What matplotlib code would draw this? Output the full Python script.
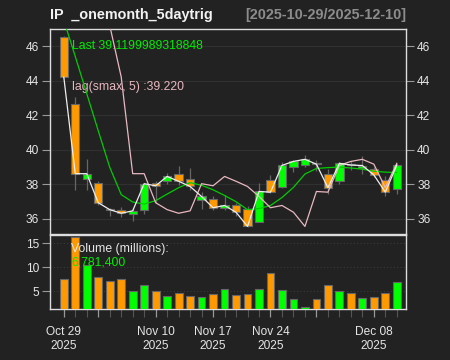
import numpy as np
import matplotlib
matplotlib.use("Agg")
import matplotlib.pyplot as plt
from matplotlib.ticker import FixedLocator, NullFormatter

plt.rcParams["font.family"] = ["Liberation Sans", "DejaVu Sans"]

# ---- data ----
dates = ["2025-10-29", "2025-10-30", "2025-10-31", "2025-11-03", "2025-11-04",
         "2025-11-05", "2025-11-06", "2025-11-07", "2025-11-10", "2025-11-11",
         "2025-11-12", "2025-11-13", "2025-11-14", "2025-11-17", "2025-11-18",
         "2025-11-19", "2025-11-20", "2025-11-21", "2025-11-24", "2025-11-25",
         "2025-11-26", "2025-11-28", "2025-12-01", "2025-12-02", "2025-12-03",
         "2025-12-04", "2025-12-05", "2025-12-08", "2025-12-09", "2025-12-10"]

opens = [46.54, 42.64, 38.33, 38.10, 36.58, 36.53, 36.30, 36.49, 38.10, 38.17,
         38.62, 38.33, 37.07, 37.13, 36.65, 36.78, 36.59, 35.82, 38.23, 37.84,
         39.00, 39.10, 39.25, 38.62, 38.20, 39.20, 38.94, 38.88, 38.23, 37.75]
highs = [46.60, 43.03, 39.49, 38.20, 36.65, 36.72, 36.65, 38.10, 38.20, 38.65,
         39.08, 38.95, 37.55, 37.30, 37.40, 36.95, 36.75, 38.08, 38.52, 39.30,
         39.42, 39.68, 39.40, 38.90, 39.30, 39.38, 39.62, 39.00, 38.50, 39.20]
lows = [44.15, 37.70, 37.65, 36.78, 36.20, 36.10, 35.90, 36.30, 36.90, 38.00,
        37.95, 37.65, 36.60, 36.50, 36.50, 36.20, 35.55, 35.80, 37.50, 37.80,
        38.70, 39.00, 38.80, 37.46, 38.05, 38.85, 38.62, 38.40, 37.30, 37.46]
closes = [44.22, 38.62, 38.62, 36.94, 36.54, 36.33, 36.47, 38.04, 37.92, 38.46,
          38.18, 37.88, 37.30, 36.65, 36.78, 36.39, 35.57, 37.59, 37.55, 39.10,
          39.33, 39.45, 39.17, 37.81, 39.22, 39.12, 39.09, 38.55, 37.55, 39.12]

# volume in millions
volume = [7.44, 16.19, 10.35, 7.98, 7.08, 7.44, 5.06, 6.31, 5.06, 4.03,
          4.51, 4.03, 3.75, 4.31, 5.35, 4.10, 4.38, 5.49, 8.69, 5.14,
          3.33, 1.73, 3.26, 6.19, 5.00, 4.51, 3.48, 3.75, 4.65, 6.78]

# green moving-average line
sma_line = [47.50, 45.40, 43.25, 41.10, 38.99, 37.41, 36.98, 36.86, 37.06, 37.44,
            37.81, 38.10, 37.95, 37.69, 37.36, 37.00, 36.54, 36.60, 36.78, 37.24,
            37.83, 38.60, 38.92, 38.97, 39.00, 38.95, 38.88, 38.76, 38.71, 38.69]

# pink lag(smax, 5) line
lag_line = [48.00, 47.80, 47.60, 47.40, 47.20, 44.22, 38.62, 38.62, 36.94, 36.54,
            36.33, 36.47, 38.04, 37.92, 38.46, 38.18, 37.88, 37.30, 36.65, 36.78,
            36.39, 35.57, 37.59, 37.55, 39.10, 39.33, 39.45, 39.17, 37.81, 39.22]

major_idx = [0, 3, 8, 13, 18, 22, 27]
major_lbl = ["Oct 29\n2025", "", "Nov 10\n2025", "Nov 17\n2025",
             "Nov 24\n2025", "", "Dec 08\n2025"]

price_ticks = [36, 38, 40, 42, 44, 46]
vol_ticks = [5, 10, 15]

# ---- style ----
BG = "#222222"
UP = "#00FF00"
DN = "#FF9900"
EDGE = "#666666"
FRAME = "#DDDDDD"
TXT = "#E6E6E6"
GRID = "#303030"

x = np.arange(len(closes))
o = np.array(opens)
c = np.array(closes)
up = c >= o
cols = np.where(up, UP, DN)

fig = plt.figure(figsize=(4.5, 3.6), dpi=100, facecolor=BG)
ax = fig.add_axes([50 / 450, 1 - 234 / 360, 356 / 450, 205 / 360], facecolor=BG)
axv = fig.add_axes([50 / 450, 1 - 309 / 360, 356 / 450, 74 / 360], facecolor=BG)

for a in (ax, axv):
    for s in a.spines.values():
        s.set_color(FRAME)
        s.set_linewidth(1.0)
    a.set_xlim(-1.2, len(closes) - 0.2)

# grid
for t in price_ticks:
    ax.axhline(t, color=GRID, lw=0.9, zorder=0)
for t in vol_ticks:
    axv.axhline(t, color="#3a3a3a", lw=0.8, ls=(0, (1, 2)), zorder=0)

# candles
ax.vlines(x, lows, highs, color=EDGE, lw=0.9, zorder=2)
body_h = np.maximum(np.abs(c - o), 0.04)
ax.bar(x, body_h, bottom=np.minimum(o, c), width=0.72, color=cols,
       edgecolor=EDGE, linewidth=0.8, zorder=3)

# overlays
ax.plot(x, sma_line, color="#00CC00", lw=0.9, zorder=4)
ax.plot(x, lag_line, color="#E8B8C0", lw=0.9, zorder=4)
ax.plot(x, closes, color="#EEEEEE", lw=0.9, zorder=5)

ax.set_ylim(35.13, 46.99)
ax.set_yticks(price_ticks)
ax.tick_params(axis="y", which="both", left=True, right=True, labelleft=True,
               labelright=True, direction="out", length=6, width=0.8,
               color="#999999", labelcolor=TXT, labelsize=8.6, pad=2)
ax.set_xticks([])

ax.text(0.063, 0.918, "Last 39.1199989318848", transform=ax.transAxes,
        color="#00EE00", fontsize=8.8, va="center", ha="left")
ax.text(0.063, 0.718, "lag(smax, 5) :39.220", transform=ax.transAxes,
        color="#E8B8C0", fontsize=8.8, va="center", ha="left")

# volume
axv.bar(x, volume, width=0.68, color=cols, edgecolor=EDGE, linewidth=0.8,
        zorder=3)
axv.set_ylim(1.25, 16.67)
axv.set_yticks(vol_ticks)
axv.tick_params(axis="y", direction="out", length=6, width=0.8,
                color="#999999", labelcolor=TXT, labelsize=8.6, pad=2)
axv.xaxis.set_major_locator(FixedLocator(major_idx))
axv.set_xticklabels(major_lbl)
axv.xaxis.set_minor_locator(FixedLocator(list(x)))
axv.xaxis.set_minor_formatter(NullFormatter())
axv.tick_params(axis="x", which="major", direction="out", length=6, width=0.9,
                color="#999999", labelcolor=TXT, labelsize=8.6, pad=6)
axv.tick_params(axis="x", which="minor", direction="out", length=6, width=0.8,
                color="#555555")
for lbl in axv.get_xticklabels():
    lbl.set_linespacing(1.25)

axv.text(0.06, 0.81, "Volume (millions):", transform=axv.transAxes,
         color=TXT, fontsize=8.8, va="center", ha="left")
axv.text(0.06, 0.63, "6,781,400", transform=axv.transAxes,
         color="#00EE00", fontsize=8.8, va="center", ha="left")

# titles
fig.text(50 / 450, 1 - 15 / 360, "IP  _onemonth_5daytrig", color="#F2F2F2",
         fontsize=10.4, fontweight="bold", va="center", ha="left")
fig.text(406 / 450, 1 - 15 / 360, "[2025-10-29/2025-12-10]", color="#8C8C8C",
         fontsize=10.4, fontweight="bold", va="center", ha="right")

fig.savefig("out.png", dpi=100, facecolor=BG)
